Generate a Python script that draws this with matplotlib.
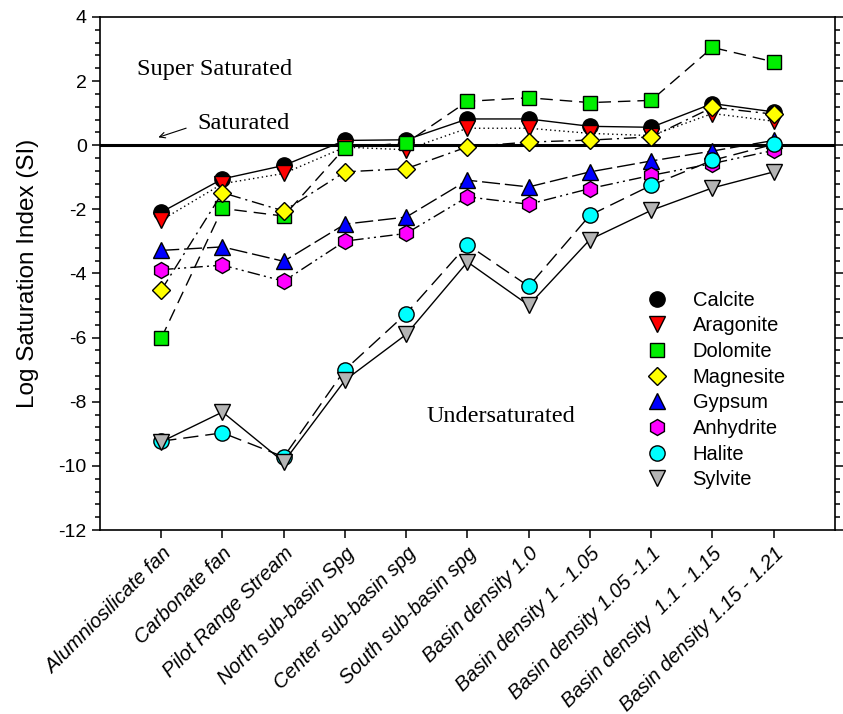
import matplotlib
matplotlib.use("Agg")
import matplotlib.pyplot as plt
from matplotlib.lines import Line2D
from matplotlib.ticker import MultipleLocator

plt.rcParams["font.family"] = ["Liberation Sans", "DejaVu Sans"]
plt.rcParams["axes.unicode_minus"] = False

# sampling sites along the x axis
sites = ["Alumniosilicate fan", "Carbonate fan", "Pilot Range Stream",
         "North sub-basin Spg", "Center sub-basin spg", "South sub-basin spg",
         "Basin density 1.0", "Basin density 1 - 1.05", "Basin density 1.05 -1.1",
         "Basin density  1.1 - 1.15", "Basin density 1.15 - 1.21"]

# log saturation index of each mineral at each site
calcite = [-2.09, -1.05, -0.63, 0.15, 0.17, 0.82, 0.82, 0.59, 0.56, 1.30, 1.04]
aragonite = [-2.34, -1.20, -0.88, -0.06, -0.14, 0.53, 0.53, 0.37, 0.30, 0.99, 0.75]
dolomite = [-6.02, -1.97, -2.21, -0.08, 0.07, 1.37, 1.48, 1.33, 1.40, 3.05, 2.60]
magnesite = [-4.52, -1.48, -2.05, -0.83, -0.73, -0.05, 0.10, 0.16, 0.26, 1.18, 0.97]
gypsum = [-3.28, -3.17, -3.62, -2.46, -2.24, -1.09, -1.30, -0.83, -0.49, -0.18, 0.15]
anhydrite = [-3.88, -3.74, -4.24, -2.99, -2.75, -1.61, -1.84, -1.35, -0.94, -0.57, -0.16]
halite = [-9.23, -8.97, -9.72, -7.00, -5.25, -3.10, -4.40, -2.18, -1.25, -0.47, 0.03]
sylvite = [-9.25, -8.32, -9.88, -7.33, -5.90, -3.64, -4.99, -2.94, -2.03, -1.33, -0.83]

series = [
    ("Calcite", calcite, "o", "black", "-"),
    ("Aragonite", aragonite, "v", "red", (0, (1, 2.2))),
    ("Dolomite", dolomite, "s", "#00ee00", (0, (9, 5))),
    ("Magnesite", magnesite, "D", "yellow", (0, (9, 3.5, 1.5, 3.5))),
    ("Gypsum", gypsum, "^", "blue", (0, (13, 3.5))),
    ("Anhydrite", anhydrite, "h", "magenta", (0, (9, 3, 1.5, 3, 1.5, 3))),
    ("Halite", halite, "o", "cyan", (0, (11, 5))),
    ("Sylvite", sylvite, "v", "#b4b4b4", "-"),
]
sizes = {"o": 11, "v": 11, "s": 10, "D": 9.5, "^": 11, "h": 11.5}

fig = plt.figure(figsize=(8.43, 7.14), dpi=100)
ax = fig.add_axes([0.1186, 0.2577, 0.8719, 0.7185])

x = list(range(1, len(sites) + 1))
ax.axhline(0, color="black", lw=2.2, zorder=1)

handles = []
for name, vals, mk, col, ls in series:
    ax.plot(x, vals, color="black", lw=1.0, ls=ls, marker=mk,
            ms=sizes[mk], mfc=col, mec="black", mew=1.0)
    handles.append(Line2D([], [], ls="none", marker=mk, ms=sizes[mk],
                          mfc=col, mec="black", mew=1.0, label=name))

ax.set_xlim(0, 12)
ax.set_ylim(-12, 4)
ax.set_xticks(x)
ax.set_xticklabels(sites, rotation=45, ha="right", va="top",
                   rotation_mode="anchor", fontstyle="italic", fontsize=14.6)
ax.yaxis.set_major_locator(MultipleLocator(2))
ax.yaxis.set_minor_locator(MultipleLocator(0.4))
ax.tick_params(axis="y", which="both", direction="out", right=True,
               labelsize=14)
ax.tick_params(axis="y", which="major", length=6, width=1.1)
ax.tick_params(axis="y", which="minor", length=3.5, width=1.1)
ax.tick_params(axis="x", direction="out", length=6, width=1.1, pad=4, top=False)
for s in ax.spines.values():
    s.set_linewidth(1.2)

ax.set_ylabel("Log Saturation Index (SI)", fontsize=17.5, labelpad=14)

serif = "Liberation Serif"
ax.text(0.61, 2.37, "Super Saturated", family=serif, fontsize=17.5, va="center")
ax.text(1.59, 0.69, "Saturated", family=serif, fontsize=17.5, va="center")
ax.annotate("", xy=(0.91, 0.22), xytext=(1.45, 0.56),
            arrowprops=dict(arrowstyle="->", lw=0.8, color="black"))
ax.text(5.33, -8.47, "Undersaturated", family=serif, fontsize=17.5, va="center")

ax.legend(handles=handles, loc="upper left", bbox_to_anchor=(0.72, 0.482),
          frameon=False, fontsize=14.5, handletextpad=0.75, labelspacing=0.33,
          borderaxespad=0)

fig.savefig("out.png", dpi=100)
